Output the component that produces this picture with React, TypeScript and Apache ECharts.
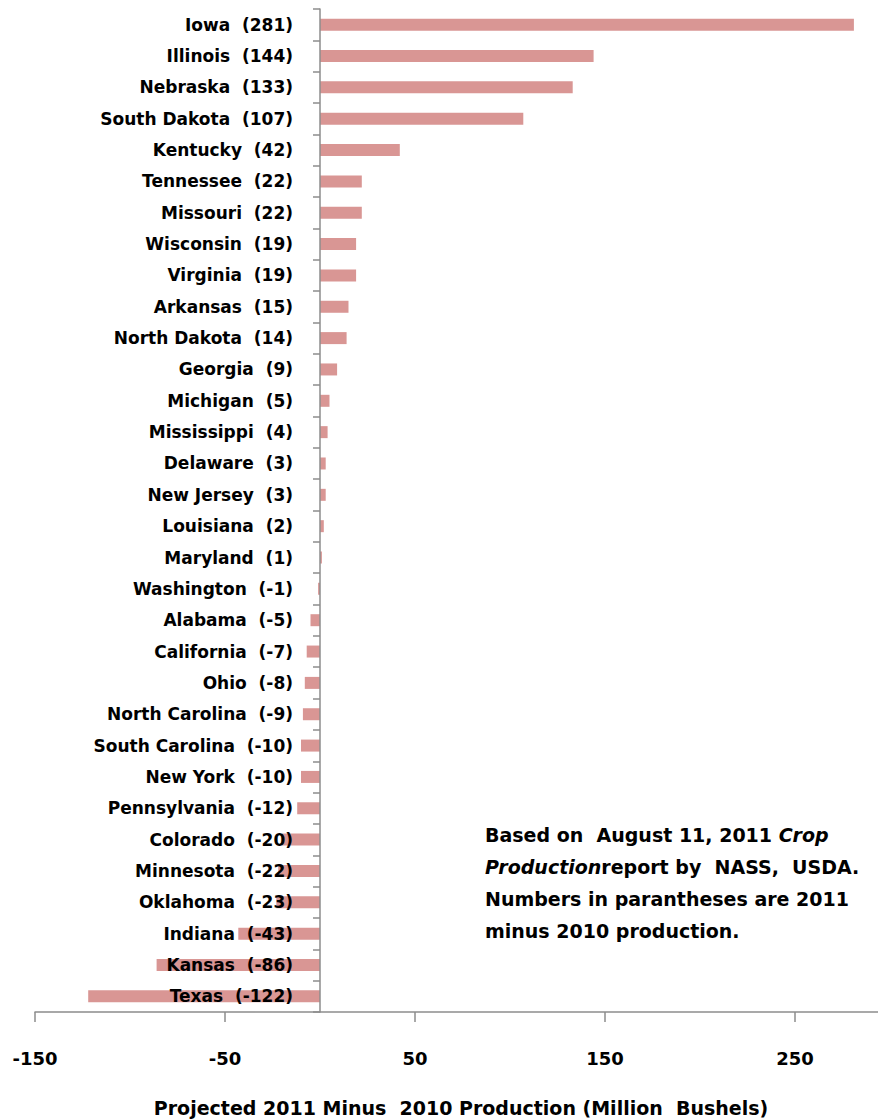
import React, { useEffect, useRef } from "react";
import * as echarts from "echarts";

const states = [
  "Iowa", "Illinois", "Nebraska", "South Dakota", "Kentucky", "Tennessee", "Missouri",
  "Wisconsin", "Virginia", "Arkansas", "North Dakota", "Georgia", "Michigan", "Mississippi",
  "Delaware", "New Jersey", "Louisiana", "Maryland", "Washington", "Alabama", "California",
  "Ohio", "North Carolina", "South Carolina", "New York", "Pennsylvania", "Colorado",
  "Minnesota", "Oklahoma", "Indiana", "Kansas", "Texas",
];
const changes = [
  281, 144, 133, 107, 42, 22, 22, 19, 19, 15, 14, 9, 5, 4, 3, 3, 2, 1, -1, -5, -7, -8, -9,
  -10, -10, -12, -20, -22, -23, -43, -86, -122,
];
const xTicks = [-150, -50, 50, 150, 250, 350];
const axisTitle = "Projected 2011 Minus  2010 Production (Million  Bushels)";
const noteLines = [
  "{b|Based on  August 11, 2011 }{i|Crop}",
  "{i|Production}{b|report by  NASS,  USDA.}",
  "{b|Numbers in parantheses are 2011}",
  "{b|minus 2010 production.}",
];

const FONT = "'DejaVu Sans', sans-serif";

export default function App() {
  const ref = useRef<HTMLDivElement>(null);
  useEffect(() => {
    if (!ref.current) return;
    const chart = echarts.init(ref.current, undefined, { renderer: "svg" });
    const labels = states.map((s, i) => `${s}  (${changes[i]})`);
    chart.setOption({
      animation: false,
      backgroundColor: "#ffffff",
      grid: {
        left: 35,
        top: 9,
        width: 950,
        height: 1003,
        containLabel: false,
        outerBoundsMode: "none",
      },
      xAxis: {
        type: "value",
        min: xTicks[0],
        max: xTicks[xTicks.length - 1],
        interval: 100,
        splitLine: { show: false },
        axisLine: { show: true, lineStyle: { color: "#8c8c8c", width: 1.5 } },
        axisTick: { show: true, length: 10, lineStyle: { color: "#8c8c8c", width: 1.5 } },
        axisLabel: {
          margin: 37,
          showMaxLabel: false,
          fontFamily: FONT,
          fontSize: 18,
          fontWeight: "bold",
          color: "#000",
        },
      },
      yAxis: {
        type: "category",
        data: labels,
        inverse: true,
        z: 5,
        axisLine: { show: true, onZero: true, lineStyle: { color: "#8c8c8c", width: 1.5 } },
        axisTick: { show: true, length: 7, inside: false, lineStyle: { color: "#8c8c8c", width: 1.5 } },
        axisLabel: {
          margin: -258,
          align: "right",
          fontFamily: FONT,
          fontSize: 17,
          fontWeight: "bold",
          color: "#000",
        },
      },
      series: [
        {
          type: "bar",
          data: changes,
          barWidth: 12,
          itemStyle: { color: "#D99694" },
          z: 2,
        },
      ],
      graphic: [
        {
          type: "text",
          x: 461,
          y: 1108,
          style: {
            text: axisTitle,
            font: `bold 19px ${FONT}`,
            fill: "#000",
            align: "center",
            verticalAlign: "middle",
          },
        },
        {
          type: "text",
          x: 485,
          y: 819,
          style: {
            text: noteLines.join("\n"),
            fill: "#000",
            lineHeight: 32,
            rich: {
              b: { fontFamily: FONT, fontSize: 19, fontWeight: "bold", lineHeight: 32, fill: "#000" },
              i: { fontFamily: FONT, fontSize: 19, fontWeight: "bold", fontStyle: "italic", lineHeight: 32, fill: "#000" },
            },
          },
        },
      ],
    });
    return () => chart.dispose();
  }, []);
  return (
    <div
      ref={ref}
      style={{ position: "absolute", left: 0, top: 0, width: 878, height: 1120, overflow: "hidden" }}
    />
  );
}
